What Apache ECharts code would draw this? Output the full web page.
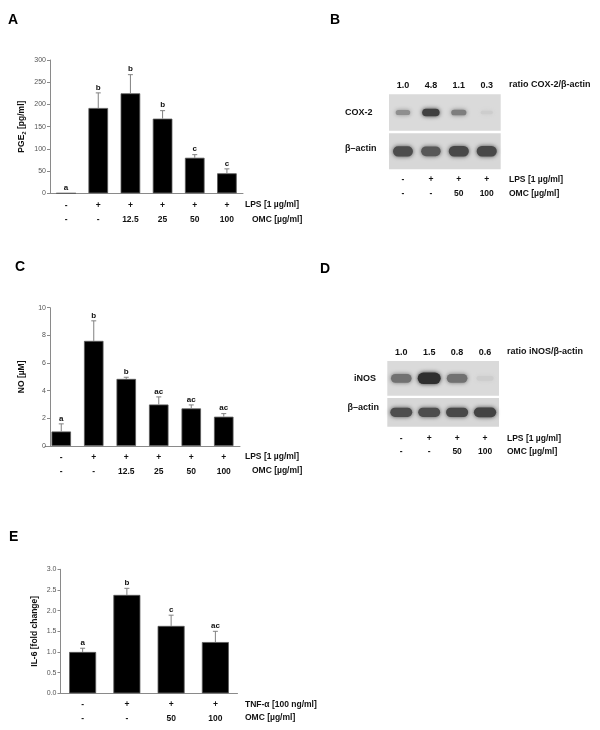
<!DOCTYPE html>
<html><head><meta charset="utf-8">
<script src="https://cdn.jsdelivr.net/npm/echarts@6/dist/echarts.min.js"></script>
<style>html,body{margin:0;padding:0;background:#fff}#c{width:600px;height:730px}</style>
</head><body><div id="c"></div>
<script>
// ---------- Panel A: PGE2 ----------
const lpsA = ['-', '+', '+', '+', '+', '+'];
const omcA = ['-', '-', '12.5', '25', '50', '100'];
const pge2 = [0, 192, 225, 168, 80, 45];
const pge2Err = [0, 34, 42, 18, 7, 10];
const sigA = ['a', 'b', 'b', 'b', 'c', 'c'];
const yTicksA = [0, 50, 100, 150, 200, 250, 300];

// ---------- Panel C: NO ----------
const lpsC = ['-', '+', '+', '+', '+', '+'];
const omcC = ['-', '-', '12.5', '25', '50', '100'];
const no = [1.05, 7.6, 4.85, 3.0, 2.72, 2.12];
const noErr = [0.55, 1.45, 0.12, 0.55, 0.25, 0.22];
const sigC = ['a', 'b', 'b', 'ac', 'ac', 'ac'];
const yTicksC = [0, 2, 4, 6, 8, 10];

// ---------- Panel E: IL-6 ----------
const tnfE = ['-', '+', '+', '+'];
const omcE = ['-', '-', '50', '100'];
const il6 = [1.0, 2.38, 1.63, 1.24];
const il6Err = [0.09, 0.16, 0.26, 0.26];
const sigE = ['a', 'b', 'c', 'ac'];
const yTicksE = [0, 0.5, 1.0, 1.5, 2.0, 2.5, 3.0];

// ---------- Panel B: COX-2 blot ----------
const lpsB = ['-', '+', '+', '+'];
const omcB = ['-', '-', '50', '100'];
const coxRatio = [1.0, 4.8, 1.1, 0.3];
const coxBand = [0.42, 0.9, 0.52, 0.04];
const actinBandB = [0.82, 0.75, 0.85, 0.85];

// ---------- Panel D: iNOS blot ----------
const lpsD = ['-', '+', '+', '+'];
const omcD = ['-', '-', '50', '100'];
const inosRatio = [1.0, 1.5, 0.8, 0.6];
const inosBand = [0.6, 1.0, 0.6, 0.04];
const actinBandD = [0.82, 0.82, 0.85, 0.88];

const FONT = 'Liberation Sans';
const chart = echarts.init(document.getElementById('c'), null, {renderer: 'canvas'});

function rowFmt(r1, r2) { return (v, i) => r1[i] + '\n' + r2[i]; }
function idx(arr) { return arr.map((_, i) => String(i)); }

function errRender(sig) {
  return function (params, api) {
    const i = api.value(0), v = api.value(1), e = api.value(2);
    const base = api.coord([i, v]);
    const top = api.coord([i, v + e]);
    const ch = [];
    if (e > 0) {
      ch.push({type: 'line', shape: {x1: base[0], y1: base[1], x2: top[0], y2: top[1]}, style: {stroke: '#808080', lineWidth: 1}});
      ch.push({type: 'line', shape: {x1: top[0] - 2.5, y1: top[1], x2: top[0] + 2.5, y2: top[1]}, style: {stroke: '#808080', lineWidth: 1}});
    }
    ch.push({type: 'text', x: top[0], y: top[1] - 1.5, style: {text: sig[params.dataIndex], align: 'center', verticalAlign: 'bottom', font: 'bold 8px ' + FONT, fill: '#111'}});
    return {type: 'group', children: ch};
  };
}

function bandRender(baseW, baseH) {
  return function (params, api) {
    const lane = api.value(0), I = api.value(1);
    const c = api.coord([lane, 0.5]);
    const w = baseW + 6 * I, h = baseH * (0.45 + 0.7 * I);
    const g = Math.round(212 - 165 * I);
    const col = 'rgb(' + g + ',' + g + ',' + g + ')';
    return {type: 'rect', shape: {x: c[0] - w / 2, y: c[1] - h / 2, width: w, height: h, r: h / 2},
      style: {fill: col, shadowBlur: 4, shadowColor: col}};
  };
}

const tickLabel = {fontSize: 7, color: '#555', fontFamily: FONT, margin: 4};
const axisLineGray = {lineStyle: {color: '#8a8a8a', width: 1}};
const rowLabel = {fontSize: 8.5, fontWeight: 'bold', color: '#111', fontFamily: FONT, lineHeight: 14.5, interval: 0};

function valueAxis(grid, ticks, name, gap, fmt) {
  return {type: 'value', gridIndex: grid, min: ticks[0], max: ticks[ticks.length - 1], interval: ticks[1] - ticks[0],
    splitLine: {show: false}, axisLine: Object.assign({show: true}, axisLineGray),
    axisTick: {show: true, length: 3, lineStyle: {color: '#8a8a8a'}},
    axisLabel: Object.assign({formatter: fmt}, tickLabel),
    name: name, nameLocation: 'middle', nameRotate: 90, nameGap: gap,
    nameTextStyle: {fontSize: 8.5, fontWeight: 'bold', color: '#111', fontFamily: FONT,
      rich: {s: {fontSize: 6, fontWeight: 'bold', color: '#111', fontFamily: FONT, padding: [5, 0, 0, 0]}}}};
}

const hiddenY = g => ({type: 'value', gridIndex: g, min: 0, max: 1, show: false});

const option = {
  animation: false,
  backgroundColor: '#fff',
  textStyle: {fontFamily: FONT},
  grid: [
    {left: 50, top: 60, width: 193, height: 133.3},      // A
    {left: 45, top: 307.7, width: 195, height: 138.3},   // C
    {left: 60.5, top: 569.3, width: 177, height: 124},   // E
    {left: 389, top: 94.3, width: 111.7, height: 36.4, show: true, backgroundColor: '#dadada', borderWidth: 0},  // B top
    {left: 389, top: 133.3, width: 111.7, height: 36, show: true, backgroundColor: '#d7d7d7', borderWidth: 0},   // B bottom
    {left: 387.3, top: 361, width: 111.7, height: 34.7, show: true, backgroundColor: '#dadada', borderWidth: 0}, // D top
    {left: 387.3, top: 398, width: 111.7, height: 28.7, show: true, backgroundColor: '#d7d7d7', borderWidth: 0}  // D bottom
  ],
  xAxis: [
    {type: 'category', gridIndex: 0, data: idx(pge2), axisLine: axisLineGray, axisTick: {show: false},
      axisLabel: Object.assign({formatter: rowFmt(lpsA, omcA), margin: 5}, rowLabel)},
    {type: 'category', gridIndex: 1, data: idx(no), axisLine: axisLineGray, axisTick: {show: false},
      axisLabel: Object.assign({formatter: rowFmt(lpsC, omcC), margin: 4}, rowLabel)},
    {type: 'category', gridIndex: 2, data: idx(il6), axisLine: axisLineGray, axisTick: {show: false},
      axisLabel: Object.assign({formatter: rowFmt(tnfE, omcE), margin: 4}, rowLabel)},
    {type: 'category', gridIndex: 3, position: 'top', data: idx(coxRatio), axisLine: {show: false}, axisTick: {show: false},
      axisLabel: {formatter: (v, i) => coxRatio[i].toFixed(1), fontSize: 9, fontWeight: 'bold', color: '#111', margin: 4, interval: 0}},
    {type: 'category', gridIndex: 4, data: idx(coxRatio), axisLine: {show: false}, axisTick: {show: false},
      axisLabel: Object.assign({}, rowLabel, {formatter: rowFmt(lpsB, omcB), margin: 4, lineHeight: 13.3})},
    {type: 'category', gridIndex: 5, position: 'top', data: idx(inosRatio), axisLine: {show: false}, axisTick: {show: false},
      axisLabel: {formatter: (v, i) => inosRatio[i].toFixed(1), fontSize: 9, fontWeight: 'bold', color: '#111', margin: 4, interval: 0}},
    {type: 'category', gridIndex: 6, data: idx(inosRatio), axisLine: {show: false}, axisTick: {show: false},
      axisLabel: Object.assign({}, rowLabel, {formatter: rowFmt(lpsD, omcD), margin: 5, lineHeight: 13})}
  ],
  yAxis: [
    valueAxis(0, yTicksA, 'PGE{s|2} [pg/ml]', 23),
    Object.assign(valueAxis(1, yTicksC, 'NO [µM]', 24), {offset: -5}),
    valueAxis(2, yTicksE, 'IL-6 [fold change]', 21, v => v.toFixed(1)),
    hiddenY(3), hiddenY(4), hiddenY(5), hiddenY(6)
  ],
  series: [
    {type: 'bar', xAxisIndex: 0, yAxisIndex: 0, data: pge2, barWidth: '61%', itemStyle: {color: '#000', borderColor: '#5a5a5a', borderWidth: 0.8}},
    {type: 'custom', xAxisIndex: 0, yAxisIndex: 0, renderItem: errRender(sigA), data: pge2.map((v, i) => [i, v, pge2Err[i]]), z: 3},
    {type: 'bar', xAxisIndex: 1, yAxisIndex: 1, data: no, barWidth: '60%', itemStyle: {color: '#000', borderColor: '#5a5a5a', borderWidth: 0.8}},
    {type: 'custom', xAxisIndex: 1, yAxisIndex: 1, renderItem: errRender(sigC), data: no.map((v, i) => [i, v, noErr[i]]), z: 3},
    {type: 'bar', xAxisIndex: 2, yAxisIndex: 2, data: il6, barWidth: '61%', itemStyle: {color: '#000', borderColor: '#5a5a5a', borderWidth: 0.8}},
    {type: 'custom', xAxisIndex: 2, yAxisIndex: 2, renderItem: errRender(sigE), data: il6.map((v, i) => [i, v, il6Err[i]]), z: 3},
    {type: 'custom', xAxisIndex: 3, yAxisIndex: 3, renderItem: bandRender(12, 7), data: coxBand.map((v, i) => [i, v])},
    {type: 'custom', xAxisIndex: 4, yAxisIndex: 4, renderItem: bandRender(15, 10), data: actinBandB.map((v, i) => [i, v])},
    {type: 'custom', xAxisIndex: 5, yAxisIndex: 5, renderItem: bandRender(17, 10), data: inosBand.map((v, i) => [i, v])},
    {type: 'custom', xAxisIndex: 6, yAxisIndex: 6, renderItem: bandRender(17, 9), data: actinBandD.map((v, i) => [i, v])}
  ],
  graphic: [
    {type: 'text', left: 8, top: 13, style: {text: 'A', font: 'bold 14px ' + FONT, fill: '#000'}},
    {type: 'text', left: 330, top: 13, style: {text: 'B', font: 'bold 14px ' + FONT, fill: '#000'}},
    {type: 'text', left: 15, top: 260, style: {text: 'C', font: 'bold 14px ' + FONT, fill: '#000'}},
    {type: 'text', left: 320, top: 262, style: {text: 'D', font: 'bold 14px ' + FONT, fill: '#000'}},
    {type: 'text', left: 9, top: 530, style: {text: 'E', font: 'bold 14px ' + FONT, fill: '#000'}},
    // row labels
    {type: 'text', x: 245, y: 205, style: {text: 'LPS [1 µg/ml]', font: 'bold 8.5px ' + FONT, fill: '#111', verticalAlign: 'middle'}},
    {type: 'text', x: 252, y: 220, style: {text: 'OMC [µg/ml]', font: 'bold 8.5px ' + FONT, fill: '#111', verticalAlign: 'middle'}},
    {type: 'text', x: 245, y: 456.7, style: {text: 'LPS [1 µg/ml]', font: 'bold 8.5px ' + FONT, fill: '#111', verticalAlign: 'middle'}},
    {type: 'text', x: 252, y: 471, style: {text: 'OMC [µg/ml]', font: 'bold 8.5px ' + FONT, fill: '#111', verticalAlign: 'middle'}},
    {type: 'text', x: 245, y: 704.3, style: {text: 'TNF-α [100 ng/ml]', font: 'bold 8.5px ' + FONT, fill: '#111', verticalAlign: 'middle'}},
    {type: 'text', x: 245, y: 718, style: {text: 'OMC [µg/ml]', font: 'bold 8.5px ' + FONT, fill: '#111', verticalAlign: 'middle'}},
    // blot B labels
    {type: 'text', x: 509, y: 85, style: {text: 'ratio COX-2/β-actin', font: 'bold 9px ' + FONT, fill: '#111', verticalAlign: 'middle'}},
    {type: 'text', x: 345, y: 112.7, style: {text: 'COX-2', font: 'bold 9px ' + FONT, fill: '#111', verticalAlign: 'middle'}},
    {type: 'text', x: 345, y: 149, style: {text: 'β–actin', font: 'bold 9px ' + FONT, fill: '#111', verticalAlign: 'middle'}},
    {type: 'text', x: 509, y: 180, style: {text: 'LPS [1 µg/ml]', font: 'bold 8.5px ' + FONT, fill: '#111', verticalAlign: 'middle'}},
    {type: 'text', x: 509, y: 193.3, style: {text: 'OMC [µg/ml]', font: 'bold 8.5px ' + FONT, fill: '#111', verticalAlign: 'middle'}},
    // blot D labels
    {type: 'text', x: 507, y: 351.7, style: {text: 'ratio iNOS/β-actin', font: 'bold 9px ' + FONT, fill: '#111', verticalAlign: 'middle'}},
    {type: 'text', x: 376, y: 379, style: {text: 'iNOS', font: 'bold 9px ' + FONT, fill: '#111', verticalAlign: 'middle', align: 'right'}},
    {type: 'text', x: 379, y: 408, style: {text: 'β–actin', font: 'bold 9px ' + FONT, fill: '#111', verticalAlign: 'middle', align: 'right'}},
    {type: 'text', x: 507, y: 439, style: {text: 'LPS [1 µg/ml]', font: 'bold 8.5px ' + FONT, fill: '#111', verticalAlign: 'middle'}},
    {type: 'text', x: 507, y: 451.7, style: {text: 'OMC [µg/ml]', font: 'bold 8.5px ' + FONT, fill: '#111', verticalAlign: 'middle'}}
  ]
};
chart.setOption(option);
</script>
</body></html>
